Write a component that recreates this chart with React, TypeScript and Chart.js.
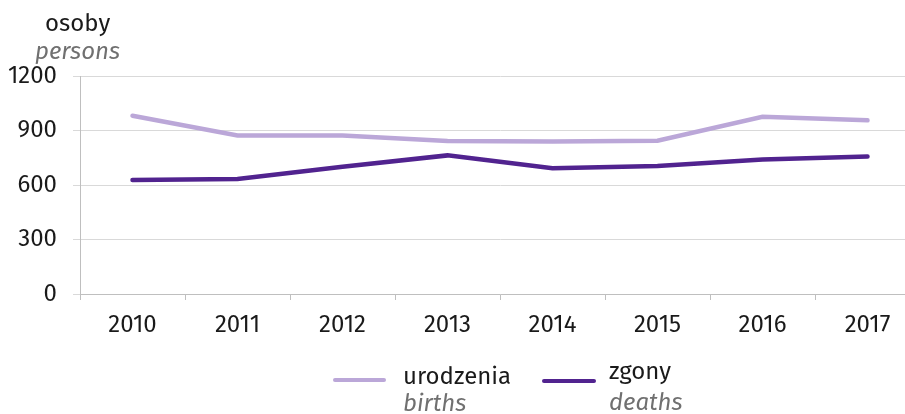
import React, { useEffect, useRef } from "react";
import { Chart, registerables } from "chart.js";

Chart.register(...registerables);

const years = ["2010", "2011", "2012", "2013", "2014", "2015", "2016", "2017"];
const births = [981, 873, 873, 842, 839, 844, 976, 956];
const deaths = [627, 633, 701, 763, 692, 704, 741, 757];
const yTicks = [0, 300, 600, 900, 1200];

const FONT = "'Fira Sans', 'Open Sans', sans-serif";
const FS = 24;
const BIRTH_COLOR = "#bba7d8";
const DEATH_COLOR = "#51238f";

export default function App() {
  const ref = useRef<HTMLCanvasElement | null>(null);

  useEffect(() => {
    document.body.style.margin = "0";
    const ctx = ref.current;
    if (!ctx) return;
    const chart = new Chart(ctx, {
      type: "line",
      data: {
        labels: years,
        datasets: [
          {
            label: "urodzenia",
            data: births,
            borderColor: BIRTH_COLOR,
            backgroundColor: BIRTH_COLOR,
            borderWidth: 4.5,
            pointRadius: 0,
            tension: 0,
            borderCapStyle: "round",
          },
          {
            label: "zgony",
            data: deaths,
            borderColor: DEATH_COLOR,
            backgroundColor: DEATH_COLOR,
            borderWidth: 4.5,
            pointRadius: 0,
            tension: 0,
            borderCapStyle: "round",
          },
        ],
      },
      options: {
        animation: false,
        responsive: false,
        maintainAspectRatio: false,
        layout: { padding: { left: 0, right: 5, top: 76, bottom: 75 } },
        plugins: {
          legend: { display: false },
          tooltip: { enabled: false },
        },
        scales: {
          x: {
            offset: true,
            grid: {
              display: true,
              offset: true,
              drawOnChartArea: false,
              drawTicks: true,
              tickLength: 6,
              color: "#bfbfbf",
            },
            border: { display: true, color: "#bfbfbf", width: 1 },
            ticks: {
              color: "#1a1a1a",
              font: { family: FONT, size: FS },
              padding: 11,
              maxRotation: 0,
            },
            afterFit: (s: any) => {
              s.height = 45;
            },
          },
          y: {
            min: 0,
            max: 1200,
            afterBuildTicks: (s: any) => {
              s.ticks = yTicks.map((v) => ({ value: v }));
            },
            grid: {
              color: "#d9d9d9",
              lineWidth: 1,
              drawTicks: true,
              tickLength: 7,
            },
            border: { display: true, color: "#bfbfbf", width: 1 },
            ticks: {
              color: "#1a1a1a",
              font: { family: FONT, size: FS },
              padding: 16,
              callback: (v: any) => String(v),
            },
            afterFit: (s: any) => {
              s.width = 80;
            },
          },
        },
      },
    });
    return () => chart.destroy();
  }, []);

  const black: React.CSSProperties = {
    position: "absolute",
    fontFamily: FONT,
    fontSize: FS,
    lineHeight: "28px",
    color: "#1a1a1a",
    whiteSpace: "nowrap",
  };
  const gray: React.CSSProperties = {
    ...black,
    fontStyle: "italic",
    color: "#707070",
  };
  const swatch = (left: number, top: number, width: number, color: string): React.CSSProperties => ({
    position: "absolute",
    left,
    top,
    width,
    height: 4,
    borderRadius: 2,
    background: color,
  });

  return (
    <div style={{ position: "fixed", left: 0, top: 0, width: 905, height: 414, overflow: "hidden", background: "#fff" }}>
      <canvas ref={ref} width={925} height={414} style={{ position: "absolute", left: 0, top: 0, width: 925, height: 414 }} />
      <div style={{ ...black, left: 45, top: 9 }}>osoby</div>
      <div style={{ ...gray, left: 35, top: 37 }}>persons</div>
      <div style={swatch(333, 378, 53, BIRTH_COLOR)} />
      <div style={{ ...black, left: 403, top: 362 }}>urodzenia</div>
      <div style={{ ...gray, left: 403, top: 389 }}>births</div>
      <div style={swatch(542, 379, 54, DEATH_COLOR)} />
      <div style={{ ...black, left: 609, top: 357 }}>zgony</div>
      <div style={{ ...gray, left: 609, top: 388 }}>deaths</div>
    </div>
  );
}
